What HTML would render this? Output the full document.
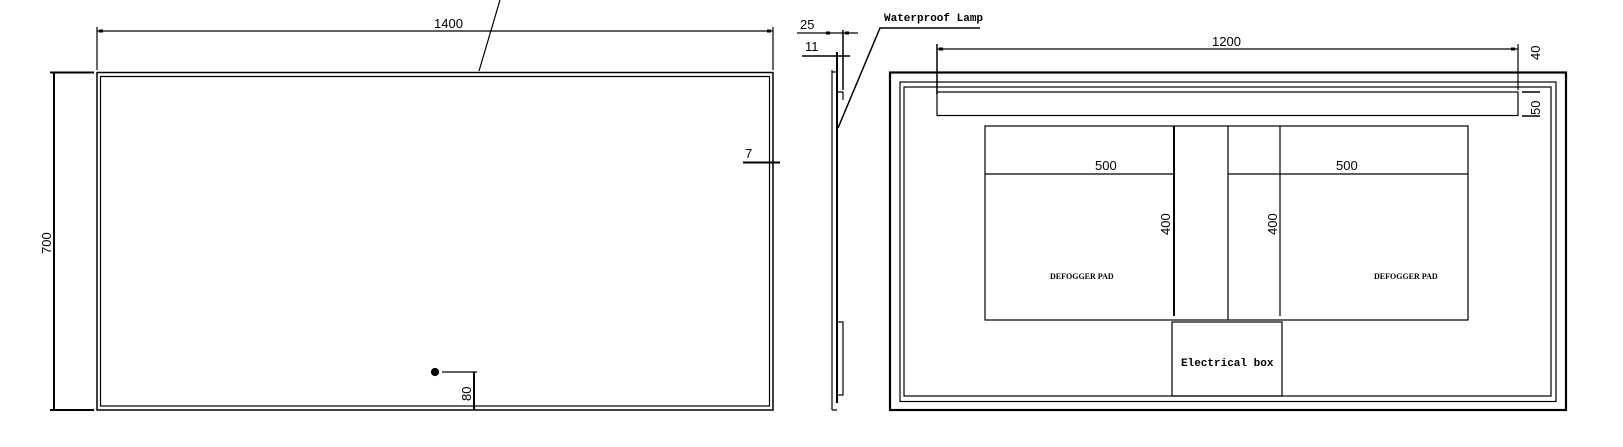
<!DOCTYPE html>
<html><head><meta charset="utf-8"><style>
html,body{margin:0;padding:0;background:#fff;}
svg{display:block;}
text{font-family:"Liberation Sans",sans-serif;font-size:13px;fill:#000;}
.b{font-family:"Liberation Serif",serif;font-weight:bold;font-size:11px;}
.m{font-family:"Liberation Mono",monospace;font-weight:bold;font-size:11px;}
</style></head><body>
<svg width="1623" height="447" viewBox="0 0 1623 447" xmlns="http://www.w3.org/2000/svg" fill="none" stroke="#000" stroke-width="1.2">
<!-- LEFT FRONT VIEW -->
<rect x="97" y="72.5" width="676" height="337.5" stroke-width="1.5"/>
<rect x="100.5" y="76.5" width="669" height="329.5"/>
<line x1="97" y1="27" x2="97" y2="70"/>
<line x1="773" y1="27" x2="773" y2="70"/>
<line x1="97" y1="31" x2="773" y2="31"/>
<rect x="99" y="29.5" width="4" height="3" fill="#000" stroke="none"/>
<rect x="767" y="29.5" width="4" height="3" fill="#000" stroke="none"/>
<text x="434" y="28" stroke="none">1400</text>
<line x1="479" y1="71" x2="500" y2="0"/>
<line x1="50" y1="72.5" x2="94" y2="72.5" stroke-width="2"/>
<line x1="50" y1="410" x2="94" y2="410" stroke-width="2"/>
<line x1="54" y1="72.5" x2="54" y2="410" stroke-width="2"/>
<text x="0" y="0" stroke="none" transform="translate(51,254) rotate(-90)">700</text>
<line x1="743" y1="162.5" x2="780" y2="162.5" stroke-width="2"/>
<text x="745" y="158" stroke="none">7</text>
<circle cx="435" cy="372" r="3.5" fill="#000"/>
<line x1="442" y1="372" x2="477" y2="372"/>
<line x1="474" y1="372" x2="474" y2="410" stroke-width="2"/>
<text x="0" y="0" stroke="none" transform="translate(471,401) rotate(-90)">80</text>
<!-- SIDE VIEW -->
<line x1="832" y1="70" x2="832" y2="410"/>
<line x1="837" y1="52" x2="837" y2="403" stroke-width="2"/>
<line x1="832" y1="72" x2="837" y2="72"/>
<line x1="832" y1="410" x2="837" y2="410"/>
<rect x="837" y="322" width="6" height="73"/>
<line x1="843" y1="30" x2="843" y2="90" stroke-width="1.5"/>
<polyline points="837,92 843,92 843,100"/>
<line x1="797" y1="33" x2="858" y2="33"/>
<rect x="826" y="31.5" width="4" height="3" fill="#000" stroke="none"/>
<rect x="845" y="31.5" width="4" height="3" fill="#000" stroke="none"/>
<text x="800" y="29" stroke="none">25</text>
<line x1="802" y1="56" x2="850" y2="56" stroke-width="1.5"/>
<text x="805" y="51" stroke="none">11</text>
<polyline points="838,128 880,28 980,28" stroke-width="1.5"/>
<text x="884" y="21" class="m" stroke="none">Waterproof Lamp</text>
<!-- RIGHT BACK VIEW -->
<rect x="890" y="72.5" width="676" height="337.5" stroke-width="2.2"/>
<rect x="900" y="82" width="656" height="319.5"/>
<rect x="904" y="87" width="647" height="309"/>
<rect x="937" y="92" width="581" height="23.5"/>
<line x1="937" y1="44" x2="937" y2="94" stroke-width="1.5"/>
<line x1="1518" y1="44" x2="1518" y2="90"/>
<line x1="937" y1="49" x2="1518" y2="49"/>
<rect x="939" y="47.5" width="4" height="3" fill="#000" stroke="none"/>
<rect x="1511" y="47.5" width="4" height="3" fill="#000" stroke="none"/>
<text x="1212" y="46" stroke="none">1200</text>
<text x="0" y="0" stroke="none" transform="translate(1540,60) rotate(-90)">40</text>
<line x1="1522" y1="92" x2="1540" y2="92" stroke-width="1.5"/>
<line x1="1522" y1="116" x2="1540" y2="116" stroke-width="1.5"/>
<text x="0" y="0" stroke="none" transform="translate(1540,115) rotate(-90)">50</text>
<rect x="985" y="126" width="483" height="194"/>
<line x1="1228" y1="126" x2="1228" y2="320"/>
<line x1="1174" y1="126" x2="1174" y2="316" stroke-width="2"/>
<line x1="1280" y1="126" x2="1280" y2="316"/>
<line x1="985" y1="174" x2="1174" y2="174"/>
<line x1="1228" y1="174" x2="1468" y2="174"/>
<text x="1095" y="170" stroke="none">500</text>
<text x="1336" y="170" stroke="none">500</text>
<text x="0" y="0" stroke="none" transform="translate(1170,235) rotate(-90)">400</text>
<text x="0" y="0" stroke="none" transform="translate(1277,235) rotate(-90)">400</text>
<text x="1050" y="279" class="b" stroke="none" style="font-size:8px">DEFOGGER PAD</text>
<text x="1374" y="279" class="b" stroke="none" style="font-size:8px">DEFOGGER PAD</text>
<rect x="1172" y="322" width="110" height="74"/>
<text x="1181" y="366" class="m" stroke="none">Electrical box</text>
</svg>
</body></html>
